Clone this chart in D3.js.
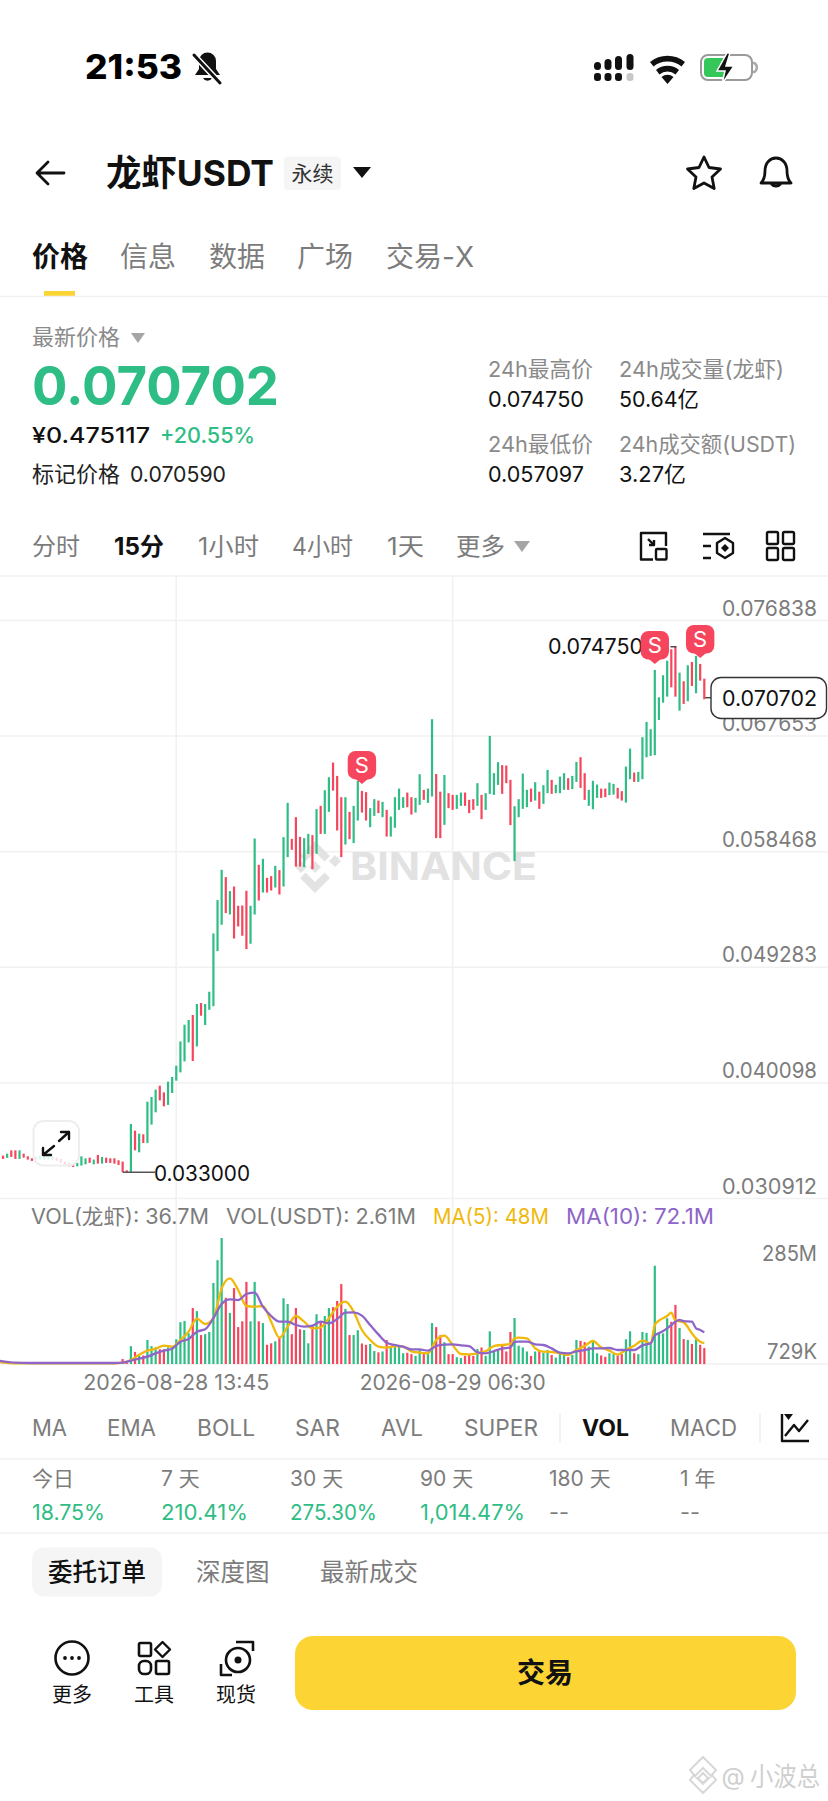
<!DOCTYPE html>
<html><head><meta charset="utf-8">
<script src="https://cdn.jsdelivr.net/npm/d3@7"></script>
<style>html,body{margin:0;padding:0;background:#fff;overflow:hidden}svg{display:block}text{font-family:Inter,"Noto Sans CJK SC",sans-serif}</style>
</head><body><div id="c"></div>
<script>
// prices are in units of 0.000001
const priceTicks=[76838,67653,58468,49283,40098,30912];
const candleHigh=[34620,34327,34485,34747,34747,34747,34485,34271,34112,34223,34327,34271,34223,34271,34168,34065,33850,33747,33636,33747,34271,34112,34168,34009,34382,34223,34168,34112,34112,33954,33850,33160,36843,36311,36073,36017,38614,38987,39566,39884,39352,40201,40575,41472,43401,44726,45099,45496,46370,46449,46370,47346,51974,54626,57031,56452,55340,55705,54173,54197,55364,54173,59515,57428,57905,56396,56531,57349,57007,59626,62350,59492,61215,59651,59548,59888,59785,61850,62112,63358,64391,65554,64493,62801,62801,61636,62112,64122,63303,63200,61929,62644,62533,62429,61794,61262,62801,63485,62801,63169,62801,62747,64628,63383,63485,68995,64644,63240,64564,63120,62985,62985,63169,63169,62588,62644,63914,62985,63120,67668,64711,65586,65348,65316,64176,62085,62644,64679,63383,63485,63993,63240,63755,64970,64176,63779,64438,64711,64311,64493,65605,65978,64711,63383,64097,63803,63485,63485,63962,63858,63541,63279,65232,66661,64756,64811,67566,68780,68201,72908,70741,72488,73647,74552,74750,72694,72011,73282,73543,74020,73385,72218];
const candleLow=[34144,34065,34144,34223,34065,34065,34168,34009,33906,34009,34009,34009,34009,34009,33906,33747,33588,33477,33430,33477,33533,33636,33747,33636,33692,33692,33747,33747,33692,33588,33000,33000,33000,34747,34589,35335,35335,36788,37764,38717,38241,38352,39304,40281,40940,41813,43321,41845,43004,45441,44703,45917,46195,50577,52665,53594,53483,51577,52530,51792,50736,51157,53483,54594,55229,55229,55388,55628,55071,55705,58040,58619,57294,57294,57247,58302,57088,58302,59888,59888,61636,63327,60152,58040,59041,59468,59153,60946,61580,60946,60421,61318,61532,61215,59675,59675,60377,61794,61953,62007,61420,61580,62191,62588,62350,62858,59548,59548,60604,61929,61794,61874,62112,62112,61532,61794,62112,61056,61794,63065,62985,63779,63065,63914,60580,57722,61215,61874,62007,62429,62533,61874,62271,63120,63065,63120,63120,63383,63383,63438,64017,63541,62588,62112,61850,62747,62747,62801,62961,63009,62691,62533,62374,64231,64017,64017,64231,65978,66081,66137,68939,70312,70789,71535,70789,69677,70209,70424,71638,71059,72059,70582];
const upFlags=[0,0,1,0,0,1,0,0,0,1,1,1,1,1,0,0,0,0,0,1,1,1,0,1,0,1,0,0,0,0,0,0,1,0,1,0,1,1,1,0,0,1,1,1,1,1,1,0,1,0,1,1,1,1,1,0,1,0,0,0,0,1,1,0,1,0,0,1,0,1,1,0,0,0,1,1,0,1,0,1,1,0,0,0,1,0,1,1,0,0,1,1,0,1,0,1,1,1,1,0,0,1,1,0,1,1,0,0,1,0,0,1,1,0,0,0,1,0,1,1,1,1,0,0,0,1,1,1,1,0,1,0,1,1,0,1,1,1,0,1,1,0,0,1,1,1,0,0,1,1,0,0,1,1,0,1,1,1,1,1,1,1,1,0,0,1,0,1,0,1,0,0];
// volume, millions
const volume=[2,1.5,1.5,1.5,1.5,1.5,1.5,1.5,1.5,1.5,1.5,1.5,1.5,1.5,1.5,1.5,1.5,1.5,1.5,1.5,2,1.5,1.5,1.5,2,1.5,1.5,1.5,1.5,2,12,5,41,28,19,20,55,41,38.4,34,34,38.4,39,56.5,95,98,70,127,120,66,68,73,183.5,235,285,150,116,172,84,97,186,97,186,97,93,44,47.4,52,59.4,149,136,68,127,79,77.4,47.4,86.5,113,95.5,109,127,129,143,181,125,66,66,77,47,44,46,30,27,29,55,39,46,39,25,26,23,19,34,25,26,93,84,65.5,50,23,23,16,14,19,23,19,35,38,19,74.5,31,34,44,29,73,104.5,42,38,29,19,29,32,26,32,21,15,25,25,16,21,55,53,50,40,55,25,20,17,25,23,20,23,56.5,74.5,25,23,73,71,46,222.5,73,70,104,96,134,82,57,55,46,56.5,44,36.7];
const maIndex=[0,4,8,12,16,20,24,28,30,32,34,36,38,40,42,44,46,48,50,52,54,56,58,60,62,64,66,68,70,72,74,76,78,80,82,84,86,88,90,92,94,96,98,100,102,104,106,108,110,112,114,116,118,120,122,124,125,126,128,130,132,134,136,138,140,142,144,146,148,150,152,154,156,158,159,160,162,163,164,165,166,168,169,170,171];
const ma5=[5.2,2.2,2.2,2.2,2.2,2.2,2.2,2.2,3.7,9.8,21.8,30.8,35.3,42.1,39.8,54.9,73.7,103,91,104,171.4,194,167.7,131.6,130,131.6,96.2,60.1,85,109,96.2,81.2,83.4,104,130,141.3,118.8,77.4,54.9,39.8,37.6,41.3,39.8,29.3,26.3,24.8,54.9,64.6,43.6,23.3,22.5,24.8,29.3,41.3,43.6,45.8,58.6,60.1,58.6,36,28.5,27.8,24.8,21,32.3,41.3,52.6,38.3,30.8,21.8,32.3,42.1,53.4,47.4,88.7,98.5,109,116.5,98.5,97,94.7,69.9,58.6,51.1,48];
const ma10=[8.2,3.7,3,3,3,3,3,3,3.7,8.2,12.8,17.3,24.8,30.8,35.3,51.1,57.1,73.7,78.9,104,136,146.6,145,158.6,161.7,130,109,96.2,96.2,88.7,85,87.2,96.2,92.5,102.2,116.5,117.3,109.8,88.7,67.6,48.9,43.6,39.8,33.8,33.8,30.8,41.3,44.3,45.1,42.8,41.3,27,24.8,30,35.3,38.3,50.4,51.1,51.1,45.1,43.6,36,26.3,24.8,29.3,32.3,36,36,36.8,32.3,32.3,32.3,42.8,47.4,65.4,69.9,81.2,88.7,96.2,100,97.7,96.2,81.2,77.4,72.1];
const volExtent=[0.729,285];
const volTickLabels=["285M","729K"];
const timeTicks=[{i:43,label:"2026-08-28 13:45"},{i:110,label:"2026-08-29 06:30"}];
const lowMark={i:31,p:33000,label:"0.033000"};
const highMark={i:164,p:74750,label:"0.074750"};
const lastPrice=70702, lastLabel="0.070702";
const sellMarks=[{i:88,p:63858},{i:159,p:73384},{i:170,p:73860}];
const tabs=["价格","信息","数据","广场","交易-X"];
const intervals=["分时","15分","1小时","4小时","1天","更多"];
const indicators=["MA","EMA","BOLL","SAR","AVL","SUPER","VOL","MACD"];
const periodNames=["今日","7 天","30 天","90 天","180 天","1 年"];
const periodValues=["18.75%","210.41%","275.30%","1,014.47%","--","--"];
const lowerTabs=["委托订单","深度图","最新成交"];
const toolNames=["更多","工具","现货"];

const GREEN="#2ebd85",RED="#f6465d",GRID="#f1f1f1",GRAY="#7c7c7c";
const W=828,H=1801;
const svg=d3.select("#c").append("svg").attr("width",W).attr("height",H).attr("viewBox",`0 0 ${W} ${H}`);
function T(s,x,y,size,fill,opt={}){
  const t=svg.append("text").attr("x",x).attr("y",y).attr("dy",".36em").attr("font-size",size).attr("fill",fill)
   .attr("text-anchor",opt.a||"start").attr("font-weight",opt.w||400).text(s);
  if(opt.len)t.attr("textLength",opt.len).attr("lengthAdjust","spacingAndGlyphs");
  return t;
}
const P=(d,o={})=>{const p=svg.append("path").attr("d",d).attr("fill",o.fill||"none");if(o.stroke)p.attr("stroke",o.stroke).attr("stroke-width",o.sw||2).attr("stroke-linecap",o.cap||"round").attr("stroke-linejoin","round");return p;};
const R=(x,y,w,h,r,fill,o={})=>{const e=svg.append("rect").attr("x",x).attr("y",y).attr("width",w).attr("height",h).attr("rx",r).attr("fill",fill);if(o.stroke)e.attr("stroke",o.stroke).attr("stroke-width",o.sw||1);if(o.op!=null)e.attr("fill-opacity",o.op);return e;};

// status bar
T("21:53",85,67,34,"#000",{w:800,len:97});
P("M195 75h25l-4-6v-8a8.5 8.5 0 0 0-17 0v8z",{fill:"#111"});P("M203 78a5 5 0 0 0 9 0z",{fill:"#111"});
P("M193 54l27 29",{stroke:"#fff",sw:6});P("M194 55l26 28",{stroke:"#111",sw:3});
[[594,62],[604.5,59],[615,56],[626.5,54]].forEach(([x,t])=>R(x,t,7,70-t,3.5,"#111"));
[594,604.5,615].forEach(x=>R(x,73,7,8,3,"#111"));R(626.5,73,7,8,3,"#c8c8c8");
P("M650 62a28 28 0 0 1 35 0l-3.5 4.5a22 22 0 0 0-28 0zM656 70a18 18 0 0 1 23 0l-3.5 4.5a12 12 0 0 0-16 0zM661.5 77a9 9 0 0 1 12 0l-6 7z",{fill:"#111"});
R(701,55,51,25,7,"#fff",{stroke:"#9a9a9a",sw:2});R(704,58,23,19,4,"#35c759");
P("M754 63a5 5 0 0 1 0 9",{stroke:"#aaa",sw:2.5});
P("M727 53l-10 18h8l-3 13 12-18h-8l4-13z",{fill:"#111"}).attr("stroke","#fff").attr("stroke-width",1.5);

// nav
P("M64 173H38M48 162l-11 11 11 11",{stroke:"#111",sw:2.8});
T("龙虾USDT",106,173,36,"#111",{w:700,len:168});
R(284,156.5,57,33.5,4,"#f5f5f5");
T("永续",312.5,173,21,"#333",{a:"middle"});
P("M353 167h18l-9 11z",{fill:"#111"});
P("M704 157l5 10.5 11.5 1.5-8.5 8 2.2 11.5-10.2-5.6-10.2 5.6 2.2-11.5-8.5-8 11.5-1.5z",{stroke:"#111",sw:2.8});
P("M761 183c3-3 4-6 4-12 0-8 5-13 11-13s11 5 11 13c0 6 1 9 4 12zM771 183a5.5 5.5 0 0 0 10 0",{stroke:"#111",sw:2.8});

// page tabs
const tabX=[32,120,209,297,386];
tabs.forEach((s,i)=>T(s,tabX[i],257,28,i?GRAY:"#111",{w:i?400:700}));
R(44,291,31,5.5,0,"#fcd535");
svg.append("line").attr("x1",0).attr("x2",W).attr("y1",296.5).attr("y2",296.5).attr("stroke",GRID).attr("stroke-width",1.5);

// price block
T("最新价格",32,337,22,"#8a8a8a");P("M131 333h14l-7 10z",{fill:"#a5a5a5"});
T("0.070702",32,385.5,54,GREEN,{w:700,len:247});
T("¥0.475117",32,435,22,"#111",{len:118,w:500});T("+20.55%",160,435,22,GREEN,{len:95,w:500});
T("标记价格",32,474,22,"#222");T("0.070590",130,474,22,"#222",{len:96});
[[488,369,"24h最高价",105,"#8a8a8a"],[488,399,"0.074750",96,"#111"],[619,369,"24h成交量(龙虾)",165,"#8a8a8a"],[619,399,"50.64亿",80,"#111"],
 [488,444.5,"24h最低价",105,"#8a8a8a"],[488,474,"0.057097",96,"#111"],[619,444.5,"24h成交额(USDT)",177,"#8a8a8a"],[619,474,"3.27亿",67,"#111"]]
 .forEach(([x,y,s,l,c])=>T(s,x,y,22,c,{len:l}));

// interval row
const ivX=[32,114,198,292,387,456],ivL=[48,50,61,61,37,49];
intervals.forEach((s,i)=>T(s,ivX[i],546,24,i==1?"#111":GRAY,{w:i==1?700:400,len:ivL[i]}));
P("M514 541h16l-8 11z",{fill:"#a5a5a5"});
P("M653 559.5H641V533h25v13M648 539l6 6M654 540v5h-5",{stroke:"#111",sw:2.4,cap:"butt"});
R(656,549,10.5,10.5,1,"none",{stroke:"#111",sw:2.4});
P("M703 534h27M703 546h8M703 558h8",{stroke:"#111",sw:2.4,cap:"butt"});
P("M725 538l8 5v10l-8 5-8-5v-10z",{stroke:"#111",sw:2.4});P("M725 544l4 4-4 4-4-4z",{fill:"#111"});
[[767,532],[783,532],[767,548],[783,548]].forEach(([x,y])=>R(x,y,11,12,1.5,"none",{stroke:"#111",sw:2.4}));

// chart scales
const x=d3.scaleLinear().domain([0,171]).range([-1.1,704.3]);
const y=d3.scaleLinear().domain([76838,30912]).range([620.5,1198.6]);
const yv=d3.scaleLinear().domain(volExtent).range([1364,1238]);
const fmtP=v=>(v/1e6).toFixed(6);

// grid
const gGrid=svg.append("g").attr("stroke",GRID).attr("stroke-width",1.5);
[576,1364].forEach(v=>gGrid.append("line").attr("x1",0).attr("x2",W).attr("y1",v).attr("y2",v));
gGrid.selectAll("line.h").data(priceTicks).enter().append("line").attr("class","h").attr("x1",0).attr("x2",W).attr("y1",d=>y(d)).attr("y2",d=>y(d));
gGrid.selectAll("line.v").data(timeTicks).enter().append("line").attr("class","v").attr("x1",d=>x(d.i)).attr("x2",d=>x(d.i)).attr("y1",576).attr("y2",1364);

// watermark
svg.append("path").attr("fill","#e3e3e3").attr("d","M315 842l15 15-5.5 5.5-9.5-9.5-9.5 9.5-5.5-5.5zM295 868l6-6 6 6-6 6zM335 868l6-6-6-6-6 6zM315 862l6 6-6 6-6-6zM315 894l-15-15 5.5-5.5 9.5 9.5 9.5-9.5 5.5 5.5z").attr("transform","translate(0,-1)");
svg.append("text").attr("x",350).attr("y",866).attr("dy",".36em").attr("font-size",38).attr("font-weight",700).attr("fill","#e2e2e2").attr("textLength",187).attr("lengthAdjust","spacingAndGlyphs").text("BINANCE");

// candles
const data=candleHigh.map((h,i)=>({i,h,l:candleLow[i],up:upFlags[i],v:volume[i]}));
const BW=2.2;
svg.append("g").selectAll("rect").data(data).enter().append("rect")
 .attr("x",d=>x(d.i)-BW/2).attr("width",BW).attr("y",d=>y(d.h)).attr("height",d=>Math.max(1.5,y(d.l)-y(d.h)))
 .attr("fill",d=>d.up?GREEN:RED);

// expand button
R(33.5,1121,45.5,44.5,10,"#fff",{stroke:"#eee",sw:2,op:.82});
P("M43 1155l11-9M43 1155h8M43 1155v-7M59 1141l10-9M69 1132h-8M69 1132v7",{stroke:"#111",sw:2.4});

// low mark
svg.append("line").attr("x1",x(lowMark.i)-4).attr("x2",155).attr("y1",y(lowMark.p)).attr("y2",y(lowMark.p)).attr("stroke","#555").attr("stroke-width",1.5);
T(lowMark.label,154,y(lowMark.p)+1.5,21,"#111",{len:96});
// high mark
svg.append("line").attr("x1",x(highMark.i)-5).attr("x2",x(highMark.i)+1).attr("y1",y(highMark.p)).attr("y2",y(highMark.p)).attr("stroke","#333").attr("stroke-width",1.3);
T(highMark.label,548,y(highMark.p),21,"#111",{len:95});

// sell badges
sellMarks.forEach(m=>{
  const X=x(m.i),Y=y(m.p);
  P(`M${X} ${Y}l-6-5h12z`,{fill:RED});
  R(X-14.2,Y-33,28.4,28.5,8,RED);
  T("S",X,Y-19,22,"#fff",{a:"middle"});
});

// price axis labels
priceTicks.forEach(p=>T(fmtP(p),817,y(p)-12.5,21,GRAY,{a:"end",len:95}));

// last price tag
svg.append("line").attr("x1",x(171)+1).attr("x2",711).attr("y1",y(lastPrice)).attr("y2",y(lastPrice)).attr("stroke","#333").attr("stroke-width",1.3);
R(711,677.5,115.5,41,10,"#fff",{stroke:"#333",sw:1.4});
T(lastLabel,817,698,21,"#111",{a:"end",len:95});

// vol legend
T("VOL(龙虾): 36.7M",31,1216,21,GRAY,{len:178});
T("VOL(USDT): 2.61M",226,1216,21,GRAY,{len:190});
T("MA(5): 48M",433,1216,21,"#f0b90b",{len:116});
T("MA(10): 72.1M",566,1216,21,"#8e65c8",{len:148});

// volume bars
svg.append("g").selectAll("rect").data(data).enter().append("rect")
 .attr("x",d=>x(d.i)-BW/2).attr("width",BW).attr("y",d=>yv(d.v)).attr("height",d=>1364-yv(d.v))
 .attr("fill",d=>d.up?GREEN:RED);

// MA lines
const line=d3.line().x(d=>x(d[0])).y(d=>yv(d[1])).curve(d3.curveMonotoneX);
svg.append("path").attr("d",line(maIndex.map((k,j)=>[k,ma5[j]]))).attr("fill","none").attr("stroke","#f0b90b").attr("stroke-width",2.3);
svg.append("path").attr("d",line(maIndex.map((k,j)=>[k,ma10[j]]))).attr("fill","none").attr("stroke","#8e65c8").attr("stroke-width",2.3);

// vol axis
T(volTickLabels[0],817,1253,21,GRAY,{a:"end",len:55});
T(volTickLabels[1],817,1351,21,GRAY,{a:"end",len:50});
timeTicks.forEach(t=>T(t.label,x(t.i),1382.5,21,GRAY,{a:"middle",len:186}));

// indicators row
const indX=[32,107,197,295,381,464,582,670],indL=[35,49,58,45,42,74,47,67];
indicators.forEach((s,i)=>T(s,indX[i],1428,23,s=="VOL"?"#111":GRAY,{w:s=="VOL"?700:400,len:indL[i]}));
[560,760].forEach(v=>svg.append("line").attr("x1",v).attr("x2",v).attr("y1",1413).attr("y2",1443).attr("stroke","#eee").attr("stroke-width",1.5));
P("M782 1414v27h27M785 1436l9-11 5 6 9-11",{stroke:"#111",sw:2.4,cap:"butt"});P("M784 1414h9l-4.5 6z",{fill:"#111"});
svg.append("line").attr("x1",0).attr("x2",W).attr("y1",1459).attr("y2",1459).attr("stroke",GRID).attr("stroke-width",1.5);

// period returns
const perX=[32,161,290,420,549,680];
periodNames.forEach((s,i)=>T(s,perX[i],1478.5,21,GRAY));
periodValues.forEach((s,i)=>T(s,perX[i],1512.5,21,s=="--"?GRAY:GREEN,{len:s=="--"?20:[73,87,87,105][i]}));
svg.append("line").attr("x1",0).attr("x2",W).attr("y1",1533).attr("y2",1533).attr("stroke",GRID).attr("stroke-width",1.5);

// lower tabs
R(32,1547.5,130,49,12,"#f5f5f5");
const ltX=[48,196,320];
lowerTabs.forEach((s,i)=>T(s,ltX[i],1572,24.5,i?GRAY:"#111",{w:i?400:500}));

// bottom tools
const cxs=[72,154,236];
toolNames.forEach((s,i)=>T(s,cxs[i],1695,20,"#111",{a:"middle"}));
svg.append("circle").attr("cx",72).attr("cy",1658).attr("r",16.5).attr("fill","none").attr("stroke","#111").attr("stroke-width",2.6);
[65,72,79].forEach(v=>svg.append("circle").attr("cx",v).attr("cy",1658).attr("r",1.9).attr("fill","#111"));
R(139,1643,12,13,1.5,"none",{stroke:"#111",sw:2.6});R(139,1661,12,13,5,"none",{stroke:"#111",sw:2.6});R(156,1661,13,13,1.5,"none",{stroke:"#111",sw:2.6});
P("M162.5 1642l7.5 7.5-7.5 7.5-7.5-7.5z",{stroke:"#111",sw:2.4});
svg.append("circle").attr("cx",238).attr("cy",1660).attr("r",12).attr("fill","none").attr("stroke","#111").attr("stroke-width",2.6);
svg.append("circle").attr("cx",238).attr("cy",1660).attr("r",3.5).attr("fill","#111");
P("M236 1642h17v9M221 1664v11h11",{stroke:"#111",sw:2.6,cap:"butt"});

// trade button
R(295,1636,501,74,18,"#fcd535");
T("交易",545,1672.5,28,"#111",{a:"middle",w:700});

// footer watermark
svg.append("path").attr("fill","none").attr("stroke","#d8d8d8").attr("stroke-width",2)
 .attr("d","M703 1757l13 13-5 6-8-8-8 8-5-6zM703 1773l5 5-5 5-5-5zM690 1780l13 13 13-13-4-5-9 9-9-9z");
T("@",733,1776,24,"#cfcfcf",{a:"middle"});
T("小波总",750,1777,26,"#cfcfcf",{len:70});
</script></body></html>
